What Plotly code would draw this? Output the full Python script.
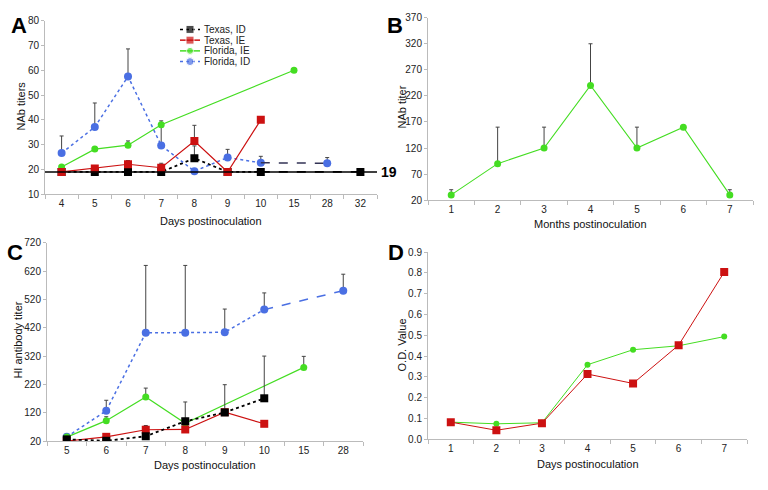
import plotly.graph_objects as go
from plotly.subplots import make_subplots

# ---- panel A : NAb titers, days postinoculation
a_days = ['4', '5', '6', '7', '8', '9', '10', '15', '28', '32']
a_tx_id_x = ['4', '5', '6', '7', '8', '9', '10', '32']
a_tx_id_y = [19, 19, 19, 19, 24.5, 19, 19, 19]
a_tx_id_err = [0, 0, 0, 0, 5, 0, 0, 0]
a_tx_ie_x = ['4', '5', '6', '7', '8', '9', '10']
a_tx_ie_y = [19, 20.4, 22.1, 20.7, 31.5, 19, 40]
a_tx_ie_err = [0, 0.9, 1.5, 1.8, 6.3, 0, 0]
a_fl_ie_x = ['4', '5', '6', '7', '15']
a_fl_ie_y = [21, 28.2, 29.8, 38, 60]
a_fl_ie_err = [0, 0.9, 1.7, 1.6, 0]
a_fl_id_x = ['4', '5', '6', '7', '8', '9', '10', '28']
a_fl_id_y = [26.6, 37.1, 57.5, 29.7, 19.3, 24.8, 22.7, 22.5]
a_fl_id_err = [6.9, 9.7, 11.1, 7.5, 0, 3.3, 2.6, 2.3]
a_baseline = 19

# ---- panel B : NAb titer, months postinoculation
b_months = ['1', '2', '3', '4', '5', '6', '7']
b_y = [30, 90, 120, 240, 120, 160, 30]
b_err = [10, 70, 40, 80, 40, 0, 10]

# ---- panel C : HI antibody titer
c_days = ['5', '6', '7', '8', '9', '10', '15', '28']
c_tx_id_x = ['5', '6', '7', '8', '9', '10']
c_tx_id_y = [26, 21, 37, 90, 121, 171]
c_tx_id_err = [0, 0, 0, 68, 98, 149]
c_tx_ie_x = ['5', '6', '7', '8', '9', '10']
c_tx_ie_y = [20, 35, 60, 61, 122, 81]
c_tx_ie_err = [0, 11, 15, 0, 0, 0]
c_fl_ie_x = ['5', '6', '7', '8', '15']
c_fl_ie_y = [34, 92, 176, 83, 280]
c_fl_ie_err = [0, 14, 31, 0, 39]
c_fl_id_x = ['5', '6', '7', '8', '9', '10', '28']
c_fl_id_y = [35, 127, 402, 402, 404, 484, 551]
c_fl_id_err = [0, 37, 238, 238, 82, 59, 58]

# ---- panel D : O.D. value
d_days = ['1', '2', '3', '4', '5', '6', '7']
d_red = [0.083, 0.044, 0.078, 0.314, 0.269, 0.453, 0.804]
d_green = [0.083, 0.075, 0.080, 0.359, 0.431, 0.450, 0.494]

legend_names = ['Texas, ID', 'Texas, IE', 'Florida, IE', 'Florida, ID']

BLACK = '#000000'
RED = '#cc1111'
GREEN = '#44dd22'
BLUE = '#4a6fe3'
ERR = '#444444'
FONT = 'Liberation Sans, Arial, sans-serif'

fig = make_subplots(rows=2, cols=2)


def err(vals):
    return dict(type='data', symmetric=False, array=vals, arrayminus=[0] * len(vals),
                color=ERR, thickness=1, width=2)


def add(x, y, e, color, dash, symbol, size, row, col, width=1.2):
    fig.add_trace(go.Scatter(x=x, y=y, mode='lines+markers',
                             line=dict(color=color, dash=dash, width=width),
                             marker=dict(color=color, symbol=symbol, size=size),
                             error_y=err(e) if e is not None else None),
                  row=row, col=col)


def split_add(x, y, e, k, color, dash1, color2, dash2, symbol, size, row, col, width=1.5):
    # first part up to index k, second part from k on (different line style)
    add(x[:k + 1], y[:k + 1], e[:k + 1], color, dash1, symbol, size, row, col, width)
    fig.add_trace(go.Scatter(x=x[k:], y=y[k:], mode='lines',
                             line=dict(color=color2, dash=dash2, width=width)),
                  row=row, col=col)
    add(x[k + 1:], y[k + 1:], e[k + 1:], color, dash1, symbol, size, row, col, width)


# panel A
split_add(a_tx_id_x, a_tx_id_y, a_tx_id_err, a_tx_id_x.index('10'), BLACK, 'dot', BLACK, 'dash',
          'square', 8, 1, 1, 1.8)
split_add(a_fl_id_x, a_fl_id_y, a_fl_id_err, a_fl_id_x.index('10'), BLUE, 'dot', '#333355', 'dash',
          'circle', 8, 1, 1)
add(a_fl_ie_x, a_fl_ie_y, a_fl_ie_err, GREEN, 'solid', 'circle', 7, 1, 1)
add(a_tx_ie_x, a_tx_ie_y, a_tx_ie_err, RED, 'solid', 'square', 8, 1, 1)
fig.add_shape(type='line', xref='x domain', x0=0, x1=1, yref='y', y0=a_baseline, y1=a_baseline,
              line=dict(color=BLACK, width=1.5))

# panel B
add(b_months, b_y, b_err, GREEN, 'solid', 'circle', 7, 1, 2, 1.1)

# panel C
split_add(c_fl_id_x, c_fl_id_y, c_fl_id_err, c_fl_id_x.index('10'), BLUE, 'dot', BLUE, 'dash',
          'circle', 8, 2, 1)
add(c_fl_ie_x, c_fl_ie_y, c_fl_ie_err, GREEN, 'solid', 'circle', 7, 2, 1)
add(c_tx_ie_x, c_tx_ie_y, c_tx_ie_err, RED, 'solid', 'square', 8, 2, 1)
add(c_tx_id_x, c_tx_id_y, c_tx_id_err, BLACK, 'dot', 'square', 8, 2, 1, 1.8)

# panel D
add(d_days, d_green, None, GREEN, 'solid', 'circle', 6, 2, 2, 1)
add(d_days, d_red, None, RED, 'solid', 'square', 8, 2, 2, 1)

# legend key for panel A, drawn in a small extra axis
key_styles = [(BLACK, 'dot', 'square', 8), (RED, 'solid', 'square', 8),
              (GREEN, 'solid', 'circle', 7), (BLUE, 'dot', 'circle', 8)]
for i, (name, (c, d, s, ms)) in enumerate(zip(legend_names, key_styles)):
    fig.add_trace(go.Scatter(x=[0, 1, 2], y=[i, i, i], mode='lines+markers',
                             line=dict(color=c, dash=d, width=1.5),
                             marker=dict(color=c, symbol=s, size=[0, ms, 0]),
                             xaxis='x5', yaxis='y5', hoverinfo='skip'))
    fig.add_annotation(x=2, y=i, xref='x5', yref='y5', text=name, showarrow=False,
                       xanchor='left', yanchor='middle', xshift=2,
                       font=dict(size=10, color='#222', family=FONT))

W, H = 768, 490


def px(x0, x1, ytop, ybot):
    return [x0 / W, x1 / W], [1 - ybot / H, 1 - ytop / H]


def xcat(cats, dom):
    return dict(domain=dom, type='category', categoryorder='array', categoryarray=cats,
                range=[-0.5, len(cats) - 0.5], tickson='boundaries', ticks='outside', ticklen=4,
                tickcolor='#bbb', showline=True, linecolor='#bbb', linewidth=1, showgrid=False,
                zeroline=False, tickfont=dict(size=10, color='#222', family=FONT), fixedrange=True)


def yax(dom, rng, tick0, dtick, fmt=None):
    d = dict(domain=dom, range=rng, tick0=tick0, dtick=dtick, ticks='outside', ticklen=3,
             tickcolor='#bbb', showline=True, linecolor='#bbb', linewidth=1, showgrid=False,
             zeroline=False, tickfont=dict(size=10, color='#222', family=FONT))
    if fmt:
        d['tickformat'] = fmt
    return d


ax, ay = px(45, 377, 15, 193)
bx, by = px(428, 753, 12, 199)
cx, cy = px(47, 363, 242.7, 446)
dx, dy = px(428, 747, 252.3, 444.3)
kx, ky = px(180, 200, 18.5, 62.5)

fig.update_layout(
    width=W, height=H, margin=dict(l=0, r=0, t=0, b=0), autosize=False,
    plot_bgcolor='white', paper_bgcolor='white', showlegend=False,
    font=dict(family=FONT, color='#222'),
    xaxis=xcat(a_days, ax), yaxis=yax(ay, [10, 80], 10, 10),
    xaxis2=xcat(b_months, bx), yaxis2=yax(by, [20, 370], 20, 50),
    xaxis3=xcat(c_days, cx), yaxis3=yax(cy, [20, 720], 20, 100),
    xaxis4=xcat(d_days, dx), yaxis4=yax(dy, [0, 0.9], 0, 0.1, '.1f'),
    xaxis5=dict(domain=kx, range=[0, 2], visible=False, anchor='y5'),
    yaxis5=dict(domain=ky, range=[3.5, -0.5], visible=False, anchor='x5'),
)

# baseline label
fig.add_annotation(xref='x domain', x=1, yref='y', y=a_baseline, text='<b>%d</b>' % a_baseline,
                   showarrow=False, xanchor='left', yanchor='middle', xshift=2,
                   font=dict(size=14, color='#000', family=FONT))

# panel letters and axis titles
letters = [('A', 19, 20), ('B', 395, 20), ('C', 15, 253), ('D', 396, 253)]
for t, x, y in letters:
    fig.add_annotation(xref='paper', yref='paper', x=x / W, y=1 - y / H, text='<b>%s</b>' % t,
                       showarrow=False, xanchor='center', yanchor='middle',
                       font=dict(size=22, color='#000', family=FONT))

xtitles = [('Days postinoculation', 211, 220), ('Months postinoculation', 590, 223),
           ('Days postinoculation', 205, 471), ('Days postinoculation', 588, 469)]
ytitles = [('NAb titers', 21, 103), ('NAb titer', 402, 104),
           ('HI antibody titer', 18, 343), ('O.D. Value', 402, 348)]
for t, x, y in xtitles:
    fig.add_annotation(xref='paper', yref='paper', x=x / W, y=1 - y / H, text=t, showarrow=False,
                       xanchor='center', yanchor='middle',
                       font=dict(size=11, color='#111', family=FONT))
for t, x, y in ytitles:
    fig.add_annotation(xref='paper', yref='paper', x=x / W, y=1 - y / H, text=t, showarrow=False,
                       xanchor='center', yanchor='middle', textangle=-90,
                       font=dict(size=11, color='#111', family=FONT))

# page body has a default 8px margin; drop it so the figure sits at the window corner
fig.write_html("out.html", config={'displayModeBar': False},
               post_script="document.body.style.margin='0';")
